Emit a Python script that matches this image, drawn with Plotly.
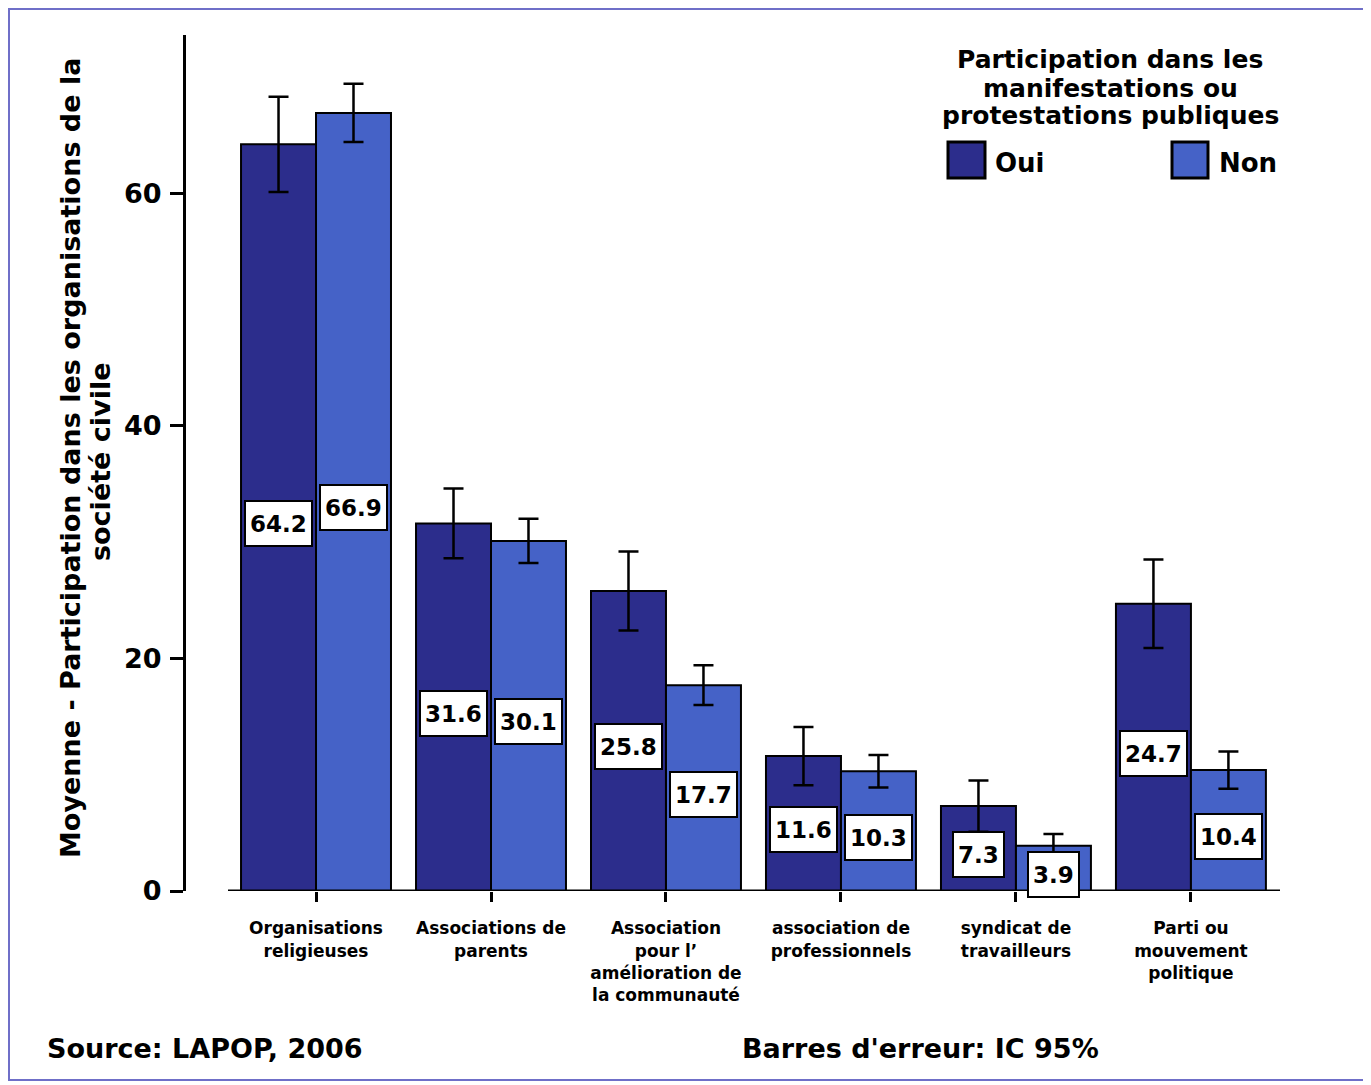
import plotly.graph_objects as go

categories = ["Organisations<br>religieuses", "Associations de<br>parents",
              "Association<br>pour l’<br>amélioration de<br>la communauté",
              "association de<br>professionnels", "syndicat de<br>travailleurs",
              "Parti ou<br>mouvement<br>politique"]
oui_values = [64.2, 31.6, 25.8, 11.6, 7.3, 24.7]
non_values = [66.9, 30.1, 17.7, 10.3, 3.9, 10.4]
oui_err = [4.1, 3.0, 3.4, 2.5, 2.2, 3.8]
non_err = [2.5, 1.9, 1.7, 1.4, 1.0, 1.6]
y_ticks = [0, 20, 40, 60]
legend_title_lines = ["Participation dans les", "manifestations ou", "protestations publiques"]

OUI_COLOR = "#2C2D8C"
NON_COLOR = "#4562C7"
BOLD_WIDE = "DejaVu Sans"

idx = list(range(len(categories)))
bargap = 0.143
half = (1 - bargap) / 4

fig = go.Figure()
fig.add_trace(go.Bar(x=idx, y=oui_values, name="Oui", marker=dict(color=OUI_COLOR, line=dict(color="black", width=2)),
                     error_y=dict(type="data", array=oui_err, color="black", thickness=2.5, width=10)))
fig.add_trace(go.Bar(x=idx, y=non_values, name="Non", marker=dict(color=NON_COLOR, line=dict(color="black", width=2)),
                     error_y=dict(type="data", array=non_err, color="black", thickness=2.5, width=10)))

OFF = 8  # page body margin
W, H = 1371 - OFF, 1085 - OFF
L, T = 186 - OFF, 35 - OFF
R = W - (1280 - OFF)
B = H - (891 - OFF)
pw, ph = W - L - R, H - T - B

def px(x):
    return (x - OFF - L) / pw

def py(y):
    return (H - B - (y - OFF)) / ph

def note(x, y, text, size, xanchor="center", **kw):
    return dict(x=px(x), y=py(y), xref="paper", yref="paper", showarrow=False, xanchor=xanchor,
                yanchor="middle", text=f"<b>{text}</b>", font=dict(family=BOLD_WIDE, size=size, color="black"), **kw)

annotations = []
for i, (o, n) in enumerate(zip(oui_values, non_values)):
    for v, dx in ((o, -half), (n, half)):
        annotations.append(dict(x=i + dx, y=v / 2, xref="x", yref="y", text=f"<b>{v}</b>", showarrow=False,
                                xanchor="center", yanchor="middle", height=35,
                                yshift=-6, bgcolor="white", bordercolor="black", borderwidth=2, borderpad=4,
                                font=dict(family=BOLD_WIDE, size=23, color="black")))

for k, line in enumerate(legend_title_lines):
    annotations.append(note(1110, 60 + 28 * k, line, 25))

annotations += [
    note(993, 163, "Oui", 26, xanchor="left"),
    note(1217, 163, "Non", 26, xanchor="left"),
    note(45, 1048, "Source: LAPOP, 2006", 27, xanchor="left"),
    note(740, 1048, "Barres d'erreur: IC 95%", 27, xanchor="left"),
    note(70, 458, "Moyenne - Participation dans les organisations de la", 27, textangle=-90),
    note(100, 462, "société civile", 27, textangle=-90),
]

shapes = [
    dict(type="line", xref="x", yref="y", x0=-0.503, x1=5.509, y0=0, y1=0, line=dict(color="black", width=3), layer="above"),
    dict(type="rect", xref="paper", yref="paper", x0=px(948), x1=px(985), y0=py(178), y1=py(142),
         fillcolor=OUI_COLOR, line=dict(color="black", width=3)),
    dict(type="rect", xref="paper", yref="paper", x0=px(1172), x1=px(1208), y0=py(178), y1=py(142),
         fillcolor=NON_COLOR, line=dict(color="black", width=3)),
    dict(type="rect", xref="paper", yref="paper", x0=px(9), x1=px(1365), y0=py(1080), y1=py(9),
         line=dict(color="#6F6FC8", width=2)),
]

fig.update_layout(
    width=W, height=H, margin=dict(l=L, r=R, t=T, b=B, autoexpand=False),
    paper_bgcolor="white", plot_bgcolor="white", showlegend=False,
    barmode="group", bargap=bargap, bargroupgap=0,
    annotations=annotations, shapes=shapes,
    xaxis=dict(range=[-0.743, 5.509], tickvals=idx, ticktext=[f"<b>{c}</b>" for c in categories],
               ticks="outside", ticklen=10, tickwidth=3, tickcolor="black", showline=False,
               showgrid=False, zeroline=False, ticklabelstandoff=12,
               tickfont=dict(family=BOLD_WIDE, size=17, color="black")),
    yaxis=dict(range=[0, 73.6], tickvals=y_ticks, ticktext=[f"<b>{t}</b>" for t in y_ticks],
               ticks="outside", ticklen=13, tickwidth=2.5, tickcolor="black",
               showline=True, linewidth=3, linecolor="black", showgrid=False, zeroline=False,
               ticklabelstandoff=3, tickfont=dict(family=BOLD_WIDE, size=27, color="black")),
)

fig.write_html("out.html")
